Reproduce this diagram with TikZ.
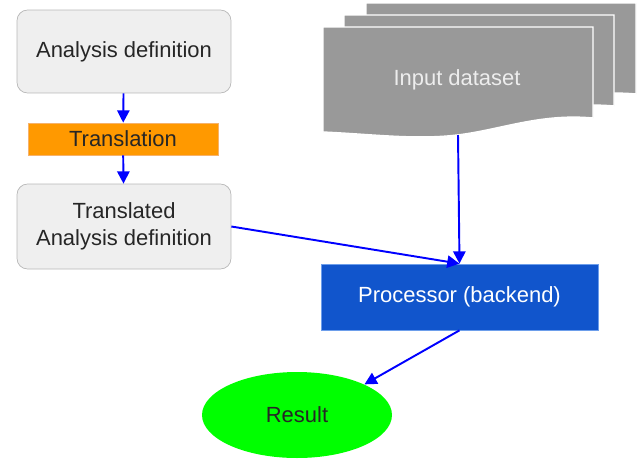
\documentclass[tikz,border=0pt]{standalone}
\usepackage{fontspec}
\setmainfont{Liberation Sans}
\usetikzlibrary{arrows.meta,shapes.geometric}
\definecolor{boxgray}{HTML}{EFEFEF}
\definecolor{linegray}{HTML}{B7B7B7}
\definecolor{sheetgray}{HTML}{999999}
\definecolor{transorange}{HTML}{FF9900}
\definecolor{transline}{HTML}{F6B26B}
\definecolor{procblue}{HTML}{1155CC}
\definecolor{procline}{HTML}{6D9EEB}
\definecolor{resgreen}{HTML}{00FF00}
\definecolor{flowblue}{HTML}{0000FF}
\tikzset{defbox/.style={draw=linegray, fill=boxgray, rounded corners=6pt, minimum width=4.28cm, align=center, text=black!85},
transbox/.style={draw=transline, fill=transorange, minimum width=3.8cm, minimum height=0.64cm, text=black!85},
procbox/.style={draw=procline, fill=procblue, minimum width=5.54cm, minimum height=1.32cm, text=white},
resnode/.style={ellipse, fill=resgreen, minimum width=3.8cm, minimum height=1.72cm, text=black!85},
sheet/.style={fill=sheetgray, draw=white, line width=0.8pt},
flow/.style={draw=flowblue, line width=1.1pt, -{Triangle[length=7pt,width=7pt]}}}

\begin{document}
\begin{tikzpicture}[x=0.02cm, y=-0.02cm, font=\fontsize{12.5}{15.3}\selectfont]
\useasboundingbox (0,0) rectangle (644,460);
% stacked input sheets, back to front
\foreach \dx/\dy in {43/-24, 21/-12, 0/0}{
\draw[sheet, shift={(\dx*0.02cm,-\dy*0.02cm)}] (323,27) -- (593,27) -- (593,118)
.. controls (540,113) and (500,130) .. (457,135)
.. controls (415,140) and (370,134) .. (323,132) -- cycle;
}
\node[text=white!93!black] (input) at (457,80) {Input dataset};
\coordinate (inbottom) at (458,135);

\node[defbox, minimum height=1.66cm] (adef) at (124,51.5) {Analysis definition};
\node[transbox] (trans) at (123,139) {Translation};
\node[defbox, minimum height=1.7cm] (tdef) at (124,226.5) {Translated\\Analysis definition};
\node[procbox] (proc) at (459.5,297) {Processor (backend)};
\node[resnode] (result) at (297,415) {Result};

\draw[flow] (adef) -- (trans);
\draw[flow] (trans) -- (tdef);
\draw[flow] (tdef.east) -- (proc.north);
\draw[flow] (inbottom) -- (proc.north);
\draw[flow] (proc.south) -- (result.north east);
\end{tikzpicture}
\end{document}
